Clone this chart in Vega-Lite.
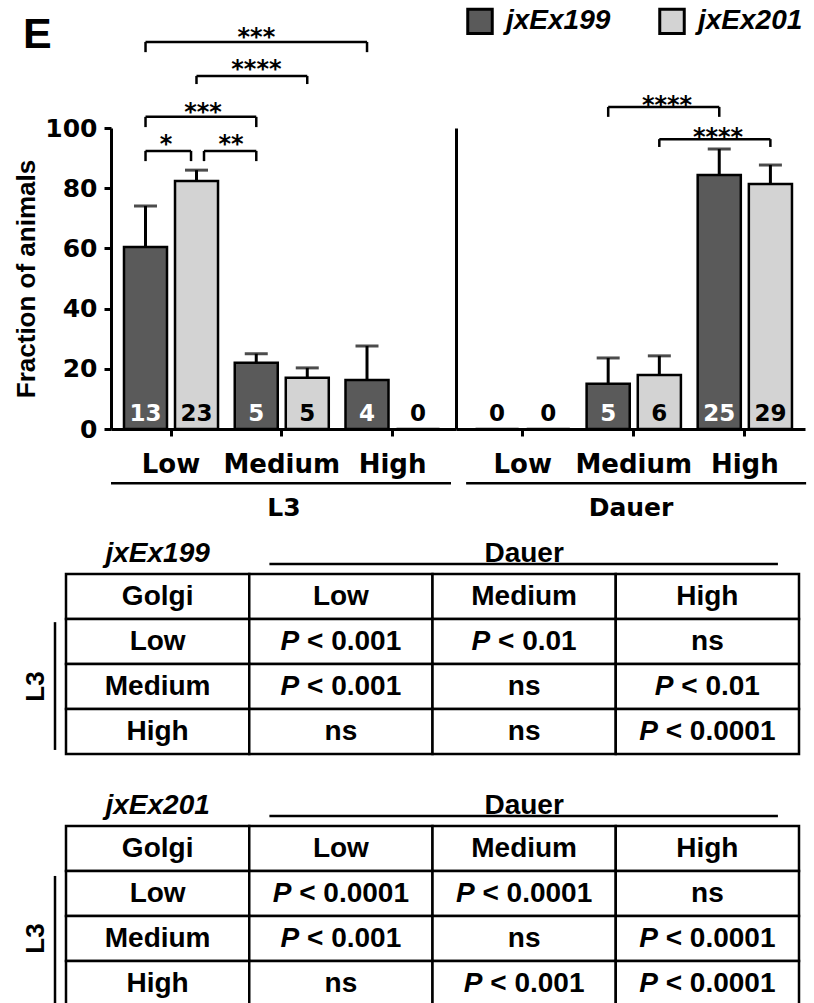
{
"$schema": "https://vega.github.io/schema/vega-lite/v6.json",
"background": "white",
"padding": {"left": 13, "top": 7, "right": 0, "bottom": 0},
"config": {"view": {"stroke": null}, "axis": {"grid": false, "domainColor": "black", "tickColor": "black", "labelColor": "black", "titleColor": "black"}},
"datasets": {
"bars": [
{"stage":"L3","group":"Low","line":"jxEx199","value":60.5,"err":74.1,"n":13},
{"stage":"L3","group":"Low","line":"jxEx201","value":82.4,"err":86.0,"n":23},
{"stage":"L3","group":"Medium","line":"jxEx199","value":22.0,"err":25.0,"n":5},
{"stage":"L3","group":"Medium","line":"jxEx201","value":17.0,"err":20.3,"n":5},
{"stage":"L3","group":"High","line":"jxEx199","value":16.3,"err":27.6,"n":4},
{"stage":"L3","group":"High","line":"jxEx201","value":0,"err":null,"n":0},
{"stage":"Dauer","group":"Low","line":"jxEx199","value":0,"err":null,"n":0},
{"stage":"Dauer","group":"Low","line":"jxEx201","value":0,"err":null,"n":0},
{"stage":"Dauer","group":"Medium","line":"jxEx199","value":15.0,"err":23.6,"n":5},
{"stage":"Dauer","group":"Medium","line":"jxEx201","value":17.9,"err":24.3,"n":6},
{"stage":"Dauer","group":"High","line":"jxEx199","value":84.4,"err":93.0,"n":25},
{"stage":"Dauer","group":"High","line":"jxEx201","value":81.4,"err":87.7,"n":29}
],
"t199": [
{"r":"Golgi","c":"Golgi","t":"Golgi"},{"r":"Golgi","c":"Low","t":"Low"},{"r":"Golgi","c":"Medium","t":"Medium"},{"r":"Golgi","c":"High","t":"High"},
{"r":"Low","c":"Golgi","t":"Low"},{"r":"Low","c":"Low","p":"P","t":"< 0.001"},{"r":"Low","c":"Medium","p":"P","t":"< 0.01"},{"r":"Low","c":"High","t":"ns"},
{"r":"Medium","c":"Golgi","t":"Medium"},{"r":"Medium","c":"Low","p":"P","t":"< 0.001"},{"r":"Medium","c":"Medium","t":"ns"},{"r":"Medium","c":"High","p":"P","t":"< 0.01"},
{"r":"High","c":"Golgi","t":"High"},{"r":"High","c":"Low","t":"ns"},{"r":"High","c":"Medium","t":"ns"},{"r":"High","c":"High","p":"P","t":"< 0.0001"}
],
"t201": [
{"r":"Golgi","c":"Golgi","t":"Golgi"},{"r":"Golgi","c":"Low","t":"Low"},{"r":"Golgi","c":"Medium","t":"Medium"},{"r":"Golgi","c":"High","t":"High"},
{"r":"Low","c":"Golgi","t":"Low"},{"r":"Low","c":"Low","p":"P","t":"< 0.0001"},{"r":"Low","c":"Medium","p":"P","t":"< 0.0001"},{"r":"Low","c":"High","t":"ns"},
{"r":"Medium","c":"Golgi","t":"Medium"},{"r":"Medium","c":"Low","p":"P","t":"< 0.001"},{"r":"Medium","c":"Medium","t":"ns"},{"r":"Medium","c":"High","p":"P","t":"< 0.0001"},
{"r":"High","c":"Golgi","t":"High"},{"r":"High","c":"Low","t":"ns"},{"r":"High","c":"Medium","p":"P","t":"< 0.001"},{"r":"High","c":"High","p":"P","t":"< 0.0001"}
]
},
"columns": 1,
"spacing": 9,
"align": "none",
"resolve": {"scale": {"x": "independent", "y": "independent", "xOffset": "independent", "color": "independent"}, "axis": {"x": "independent", "y": "independent"}, "legend": {"color": "independent"}},
"concat": [
{
"hconcat": [
{
"width": 345, "height": 301,
"layer": [
{"data": {"name": "bars"}, "transform": [{"filter": "datum.stage === 'L3'"}],
 "mark": {"type": "bar", "stroke": "black", "strokeWidth": 2.5},
 "encoding": {
  "x": {"field": "group", "type": "nominal", "title": "L3", "scale": {"domain": ["Low","Medium","High"], "paddingInner": 0.151, "paddingOuter": 0.133, "align": 0.441},
        "axis": {"labelAngle": 0, "domainWidth": 3, "tickWidth": 3, "tickSize": 7, "labelFont": "DejaVu Sans", "labelFontSize": 26, "labelFontWeight": "bold", "labelPadding": 15, "titleFont": "DejaVu Sans", "titleFontSize": 25, "titleFontWeight": "bold", "titlePadding": 18}},
  "xOffset": {"field": "line", "type": "nominal", "scale": {"domain": ["jxEx199","jxEx201"], "paddingInner": 0.157, "paddingOuter": 0}},
  "y": {"field": "value", "type": "quantitative", "title": "Fraction of animals", "scale": {"domain": [0, 100], "nice": false},
        "axis": {"values": [0,20,40,60,80,100], "domainWidth": 3, "tickWidth": 3, "tickSize": 7, "labelFont": "DejaVu Sans", "labelFontSize": 25, "labelFontWeight": "bold", "labelPadding": 7, "titleFont": "Liberation Sans", "titleFontSize": 26, "titleFontWeight": "bold", "titlePadding": 5}},
  "color": {"field": "line", "type": "nominal", "scale": {"domain": ["jxEx199","jxEx201"], "range": ["#5a5a5a","#d3d3d3"]}, "legend": null}
 }},
{"data": {"name": "bars"}, "transform": [{"filter": "datum.stage === 'L3' && datum.err != null"}],
 "mark": {"type": "rule", "color": "black", "strokeWidth": 3},
 "encoding": {"x": {"field": "group", "type": "nominal"}, "xOffset": {"field": "line", "type": "nominal"}, "y": {"field": "value", "type": "quantitative"}, "y2": {"field": "err"}}},
{"data": {"name": "bars"}, "transform": [{"filter": "datum.stage === 'L3' && datum.err != null"}],
 "mark": {"type": "tick", "color": "black", "thickness": 3, "size": 23},
 "encoding": {"x": {"field": "group", "type": "nominal"}, "xOffset": {"field": "line", "type": "nominal"}, "y": {"field": "err", "type": "quantitative"}}},
{"data": {"name": "bars"}, "transform": [{"filter": "datum.stage === 'L3'"}],
 "mark": {"type": "text", "font": "DejaVu Sans", "fontSize": 23, "fontWeight": "bold", "baseline": "middle", "dy": -15},
 "encoding": {"x": {"field": "group", "type": "nominal"}, "xOffset": {"field": "line", "type": "nominal"}, "y": {"datum": 0, "type": "quantitative"}, "text": {"field": "n", "type": "nominal"},
   "color": {"condition": {"test": "datum.line === 'jxEx199' && datum.n > 0", "value": "white"}, "value": "black"}}},
{"data": {"values": [{"from":"Low","to":"High","y":128.6,"yb":125.2},{"from":"Low","to":"Medium","y":103.7,"yb":100.3}]},
 "layer": [
  {"mark": {"type": "rule", "color": "black", "strokeWidth": 2.5}, "encoding": {"x": {"field": "from", "type": "nominal", "bandPosition": 0.229}, "x2": {"field": "to", "bandPosition": 0.229}, "y": {"field": "y", "type": "quantitative"}}},
  {"mark": {"type": "rule", "color": "black", "strokeWidth": 2.5}, "encoding": {"x": {"field": "from", "type": "nominal", "bandPosition": 0.229}, "y": {"field": "y", "type": "quantitative"}, "y2": {"field": "yb"}}},
  {"mark": {"type": "rule", "color": "black", "strokeWidth": 2.5}, "encoding": {"x": {"field": "to", "type": "nominal", "bandPosition": 0.229}, "y": {"field": "y", "type": "quantitative"}, "y2": {"field": "yb"}}}
 ]},
{"data": {"values": [{"from":"Low","to":"Medium","y":117.3,"yb":114.6}]},
 "layer": [
  {"mark": {"type": "rule", "color": "black", "strokeWidth": 2.5}, "encoding": {"x": {"field": "from", "type": "nominal", "bandPosition": 0.771}, "x2": {"field": "to", "bandPosition": 0.771}, "y": {"field": "y", "type": "quantitative"}}},
  {"mark": {"type": "rule", "color": "black", "strokeWidth": 2.5}, "encoding": {"x": {"field": "from", "type": "nominal", "bandPosition": 0.771}, "y": {"field": "y", "type": "quantitative"}, "y2": {"field": "yb"}}},
  {"mark": {"type": "rule", "color": "black", "strokeWidth": 2.5}, "encoding": {"x": {"field": "to", "type": "nominal", "bandPosition": 0.771}, "y": {"field": "y", "type": "quantitative"}, "y2": {"field": "yb"}}}
 ]},
{"data": {"values": [{"from":"Low","to":"Low","y":92.4,"yb":89.0}]},
 "layer": [
  {"mark": {"type": "rule", "color": "black", "strokeWidth": 2.5}, "encoding": {"x": {"field": "from", "type": "nominal", "bandPosition": 0.229}, "x2": {"field": "to", "bandPosition": 0.713}, "y": {"field": "y", "type": "quantitative"}}},
  {"mark": {"type": "rule", "color": "black", "strokeWidth": 2.5}, "encoding": {"x": {"field": "from", "type": "nominal", "bandPosition": 0.229}, "y": {"field": "y", "type": "quantitative"}, "y2": {"field": "yb"}}},
  {"mark": {"type": "rule", "color": "black", "strokeWidth": 2.5}, "encoding": {"x": {"field": "to", "type": "nominal", "bandPosition": 0.713}, "y": {"field": "y", "type": "quantitative"}, "y2": {"field": "yb"}}}
 ]},
{"data": {"values": [{"from":"Low","to":"Medium","y":92.4,"yb":89.0}]},
 "layer": [
  {"mark": {"type": "rule", "color": "black", "strokeWidth": 2.5}, "encoding": {"x": {"field": "from", "type": "nominal", "bandPosition": 0.851}, "x2": {"field": "to", "bandPosition": 0.229}, "y": {"field": "y", "type": "quantitative"}}},
  {"mark": {"type": "rule", "color": "black", "strokeWidth": 2.5}, "encoding": {"x": {"field": "from", "type": "nominal", "bandPosition": 0.851}, "y": {"field": "y", "type": "quantitative"}, "y2": {"field": "yb"}}},
  {"mark": {"type": "rule", "color": "black", "strokeWidth": 2.5}, "encoding": {"x": {"field": "to", "type": "nominal", "bandPosition": 0.229}, "y": {"field": "y", "type": "quantitative"}, "y2": {"field": "yb"}}}
 ]},
{"data": {"values": [{"at":"Medium","y":132.2,"label":"***"},{"at":"Medium","y":121.6,"label":"****"}]},
 "mark": {"type": "text", "font": "DejaVu Sans", "fontSize": 24, "fontWeight": "bold", "baseline": "alphabetic", "dy": 14, "color": "black"},
 "encoding": {"x": {"field": "at", "type": "nominal", "bandPosition": 0.23}, "y": {"field": "y", "type": "quantitative"}, "text": {"field": "label"}}},
{"data": {"values": [{"at":"Low","y":107.3,"label":"***"}]},
 "mark": {"type": "text", "font": "DejaVu Sans", "fontSize": 24, "fontWeight": "bold", "baseline": "alphabetic", "dy": 14, "color": "black"},
 "encoding": {"x": {"field": "at", "type": "nominal", "bandPosition": 0.84}, "y": {"field": "y", "type": "quantitative"}, "text": {"field": "label"}}},
{"data": {"values": [{"at":"Low","y":96.7,"label":"*"}]},
 "mark": {"type": "text", "font": "DejaVu Sans", "fontSize": 24, "fontWeight": "bold", "baseline": "alphabetic", "dy": 14, "color": "black"},
 "encoding": {"x": {"field": "at", "type": "nominal", "bandPosition": 0.447}, "y": {"field": "y", "type": "quantitative"}, "text": {"field": "label"}}},
{"data": {"values": [{"at":"Low","y":96.7,"label":"**"}]},
 "mark": {"type": "text", "font": "DejaVu Sans", "fontSize": 24, "fontWeight": "bold", "baseline": "alphabetic", "dy": 14, "color": "black"},
 "encoding": {"x": {"field": "at", "type": "nominal", "bandPosition": 1.138}, "y": {"field": "y", "type": "quantitative"}, "text": {"field": "label"}}},
{"data": {"values": [{}]},
 "mark": {"type": "rule", "color": "black", "strokeWidth": 2.5},
 "encoding": {"x": {"datum": "Low", "bandPosition": -0.138}, "x2": {"datum": "High", "bandPosition": 1.122}, "y": {"datum": -18, "type": "quantitative"}}},
{"data": {"values": [{"label": "E"}]},
 "mark": {"type": "text", "font": "Liberation Sans", "fontSize": 43, "fontWeight": "bold", "align": "left", "baseline": "alphabetic", "color": "black"},
 "encoding": {"x": {"datum": "Low", "bandPosition": -1.074}, "y": {"datum": 126.6, "type": "quantitative"}, "text": {"field": "label"}}}
]
},
{
"width": 349, "height": 301,
"layer": [
{"data": {"name": "bars"}, "transform": [{"filter": "datum.stage === 'Dauer'"}],
 "mark": {"type": "bar", "stroke": "black", "strokeWidth": 2.5},
 "encoding": {
  "x": {"field": "group", "type": "nominal", "title": "Dauer", "scale": {"domain": ["Low","Medium","High"], "paddingInner": 0.151, "paddingOuter": 0.1466, "align": 0.6},
        "axis": {"labelAngle": 0, "domainWidth": 3, "tickWidth": 3, "tickSize": 7, "labelFont": "DejaVu Sans", "labelFontSize": 26, "labelFontWeight": "bold", "labelPadding": 15, "titleFont": "DejaVu Sans", "titleFontSize": 25, "titleFontWeight": "bold", "titlePadding": 18}},
  "xOffset": {"field": "line", "type": "nominal", "scale": {"domain": ["jxEx199","jxEx201"], "paddingInner": 0.157, "paddingOuter": 0}},
  "y": {"field": "value", "type": "quantitative", "scale": {"domain": [0, 100], "nice": false},
        "axis": {"labels": false, "ticks": false, "title": null, "domainWidth": 3}},
  "color": {"field": "line", "type": "nominal", "scale": {"domain": ["jxEx199","jxEx201"], "range": ["#5a5a5a","#d3d3d3"]},
        "legend": {"title": null, "orient": "none", "legendX": 10, "legendY": -121, "direction": "horizontal", "symbolType": "square", "symbolSize": 600, "symbolStrokeColor": "black", "symbolStrokeWidth": 3, "labelFont": "Liberation Sans", "labelFontSize": 28, "labelFontStyle": "italic", "labelFontWeight": "bold", "labelColor": "black", "labelOffset": 12, "columnPadding": 42, "padding": 0, "labelLimit": 300}}
 }},
{"data": {"name": "bars"}, "transform": [{"filter": "datum.stage === 'Dauer' && datum.err != null"}],
 "mark": {"type": "rule", "color": "black", "strokeWidth": 3},
 "encoding": {"x": {"field": "group", "type": "nominal"}, "xOffset": {"field": "line", "type": "nominal"}, "y": {"field": "value", "type": "quantitative"}, "y2": {"field": "err"}}},
{"data": {"name": "bars"}, "transform": [{"filter": "datum.stage === 'Dauer' && datum.err != null"}],
 "mark": {"type": "tick", "color": "black", "thickness": 3, "size": 23},
 "encoding": {"x": {"field": "group", "type": "nominal"}, "xOffset": {"field": "line", "type": "nominal"}, "y": {"field": "err", "type": "quantitative"}}},
{"data": {"name": "bars"}, "transform": [{"filter": "datum.stage === 'Dauer'"}],
 "mark": {"type": "text", "font": "DejaVu Sans", "fontSize": 23, "fontWeight": "bold", "baseline": "middle", "dy": -15},
 "encoding": {"x": {"field": "group", "type": "nominal"}, "xOffset": {"field": "line", "type": "nominal"}, "y": {"datum": 0, "type": "quantitative"}, "text": {"field": "n", "type": "nominal"},
   "color": {"condition": {"test": "datum.line === 'jxEx199' && datum.n > 0", "value": "white"}, "value": "black"}}},
{"data": {"values": [{"from":"Medium","to":"High","y":107.0,"yb":103.7}]},
 "layer": [
  {"mark": {"type": "rule", "color": "black", "strokeWidth": 2.5}, "encoding": {"x": {"field": "from", "type": "nominal", "bandPosition": 0.229}, "x2": {"field": "to", "bandPosition": 0.229}, "y": {"field": "y", "type": "quantitative"}}},
  {"mark": {"type": "rule", "color": "black", "strokeWidth": 2.5}, "encoding": {"x": {"field": "from", "type": "nominal", "bandPosition": 0.229}, "y": {"field": "y", "type": "quantitative"}, "y2": {"field": "yb"}}},
  {"mark": {"type": "rule", "color": "black", "strokeWidth": 2.5}, "encoding": {"x": {"field": "to", "type": "nominal", "bandPosition": 0.229}, "y": {"field": "y", "type": "quantitative"}, "y2": {"field": "yb"}}}
 ]},
{"data": {"values": [{"from":"Medium","to":"High","y":96.3,"yb":93.7}]},
 "layer": [
  {"mark": {"type": "rule", "color": "black", "strokeWidth": 2.5}, "encoding": {"x": {"field": "from", "type": "nominal", "bandPosition": 0.771}, "x2": {"field": "to", "bandPosition": 0.771}, "y": {"field": "y", "type": "quantitative"}}},
  {"mark": {"type": "rule", "color": "black", "strokeWidth": 2.5}, "encoding": {"x": {"field": "from", "type": "nominal", "bandPosition": 0.771}, "y": {"field": "y", "type": "quantitative"}, "y2": {"field": "yb"}}},
  {"mark": {"type": "rule", "color": "black", "strokeWidth": 2.5}, "encoding": {"x": {"field": "to", "type": "nominal", "bandPosition": 0.771}, "y": {"field": "y", "type": "quantitative"}, "y2": {"field": "yb"}}}
 ]},
{"data": {"values": [{"at":"Medium","y":109.6,"label":"****"}]},
 "mark": {"type": "text", "font": "DejaVu Sans", "fontSize": 24, "fontWeight": "bold", "baseline": "alphabetic", "dy": 14, "color": "black"},
 "encoding": {"x": {"field": "at", "type": "nominal", "bandPosition": 0.853}, "y": {"field": "y", "type": "quantitative"}, "text": {"field": "label"}}},
{"data": {"values": [{"at":"High","y":99.0,"label":"****"}]},
 "mark": {"type": "text", "font": "DejaVu Sans", "fontSize": 24, "fontWeight": "bold", "baseline": "alphabetic", "dy": 14, "color": "black"},
 "encoding": {"x": {"field": "at", "type": "nominal", "bandPosition": 0.216}, "y": {"field": "y", "type": "quantitative"}, "text": {"field": "label"}}},
{"data": {"values": [{}]},
 "mark": {"type": "rule", "color": "black", "strokeWidth": 2.5},
 "encoding": {"x": {"datum": "Low", "bandPosition": -0.1}, "x2": {"datum": "High", "bandPosition": 1.15}, "y": {"datum": -18, "type": "quantitative"}}}
]
}
],
"spacing": 0,
"resolve": {"scale": {"x": "independent", "y": "independent", "xOffset": "independent", "color": "independent"}, "axis": {"x": "independent", "y": "independent"}, "legend": {"color": "independent"}}
},
{
"concat": [
{
"width": 688, "height": 225,
"data": {"name": "t199"},
"layer": [
{"mark": {"type": "rect", "fill": "white", "stroke": "black", "strokeWidth": 2.5},
 "encoding": {"x": {"field": "c", "type": "nominal", "scale": {"domain": ["Golgi","Low","Medium","High"], "range": [-45, 688], "paddingInner": 0, "paddingOuter": 0}, "axis": null},
              "y": {"field": "r", "type": "nominal", "scale": {"domain": ["title","Golgi","Low","Medium","High"], "paddingInner": 0, "paddingOuter": 0}, "axis": null}}},
{"transform": [{"filter": "!datum.p"}],
 "mark": {"type": "text", "font": "Liberation Sans", "fontSize": 28, "fontWeight": "bold", "baseline": "middle", "color": "black"},
 "encoding": {"x": {"field": "c", "type": "nominal"}, "y": {"field": "r", "type": "nominal"}, "text": {"field": "t"}}},
{"transform": [{"filter": "datum.p"}],
 "mark": {"type": "text", "font": "Liberation Sans", "fontSize": 28, "fontWeight": "bold", "fontStyle": "italic", "baseline": "middle", "align": "left", "color": "black", "dx": {"expr": "-(28*0.945 + 28*(1.14 + 0.556*(length(datum.t)-3)))/2"}},
 "encoding": {"x": {"field": "c", "type": "nominal"}, "y": {"field": "r", "type": "nominal"}, "text": {"field": "p"}}},
{"transform": [{"filter": "datum.p"}],
 "mark": {"type": "text", "font": "Liberation Sans", "fontSize": 28, "fontWeight": "bold", "baseline": "middle", "align": "left", "color": "black", "dx": {"expr": "-(28*0.945 + 28*(1.14 + 0.556*(length(datum.t)-3)))/2 + 28*0.945"}},
 "encoding": {"x": {"field": "c", "type": "nominal"}, "y": {"field": "r", "type": "nominal"}, "text": {"field": "t"}}},
{"data": {"values": [{"label": "jxEx199"}]},
 "mark": {"type": "text", "font": "Liberation Sans", "fontSize": 28, "fontWeight": "bold", "fontStyle": "italic", "baseline": "middle", "color": "black"},
 "encoding": {"x": {"datum": "Golgi"}, "y": {"datum": "title", "bandPosition": 0.55}, "text": {"field": "label"}}},
{"data": {"values": [{"label": "Dauer"}]},
 "mark": {"type": "text", "font": "Liberation Sans", "fontSize": 28, "fontWeight": "bold", "baseline": "middle", "color": "black"},
 "encoding": {"x": {"datum": "Medium"}, "y": {"datum": "title", "bandPosition": 0.55}, "text": {"field": "label"}}},
{"data": {"values": [{}]},
 "mark": {"type": "rule", "color": "black", "strokeWidth": 2.5},
 "encoding": {"x": {"datum": "Low", "bandPosition": 0.11}, "x2": {"datum": "High", "bandPosition": 0.885}, "y": {"datum": "title", "bandPosition": 0.78}}},
{"data": {"values": [{}]},
 "mark": {"type": "rule", "color": "black", "strokeWidth": 2.5},
 "encoding": {"x": {"datum": "Golgi", "bandPosition": -0.06}, "y": {"datum": "Low", "bandPosition": 0.07}, "y2": {"datum": "High", "bandPosition": 0.91}}},
{"data": {"values": [{"label": "L3"}]},
 "mark": {"type": "text", "font": "Liberation Sans", "fontSize": 26, "fontWeight": "bold", "baseline": "middle", "angle": 270, "color": "black"},
 "encoding": {"x": {"datum": "Golgi", "bandPosition": -0.164}, "y": {"datum": "Medium"}, "text": {"field": "label"}}}
]
},
{
"width": 688, "height": 225,
"data": {"name": "t201"},
"layer": [
{"mark": {"type": "rect", "fill": "white", "stroke": "black", "strokeWidth": 2.5},
 "encoding": {"x": {"field": "c", "type": "nominal", "scale": {"domain": ["Golgi","Low","Medium","High"], "range": [-45, 688], "paddingInner": 0, "paddingOuter": 0}, "axis": null},
              "y": {"field": "r", "type": "nominal", "scale": {"domain": ["title","Golgi","Low","Medium","High"], "paddingInner": 0, "paddingOuter": 0}, "axis": null}}},
{"transform": [{"filter": "!datum.p"}],
 "mark": {"type": "text", "font": "Liberation Sans", "fontSize": 28, "fontWeight": "bold", "baseline": "middle", "color": "black"},
 "encoding": {"x": {"field": "c", "type": "nominal"}, "y": {"field": "r", "type": "nominal"}, "text": {"field": "t"}}},
{"transform": [{"filter": "datum.p"}],
 "mark": {"type": "text", "font": "Liberation Sans", "fontSize": 28, "fontWeight": "bold", "fontStyle": "italic", "baseline": "middle", "align": "left", "color": "black", "dx": {"expr": "-(28*0.945 + 28*(1.14 + 0.556*(length(datum.t)-3)))/2"}},
 "encoding": {"x": {"field": "c", "type": "nominal"}, "y": {"field": "r", "type": "nominal"}, "text": {"field": "p"}}},
{"transform": [{"filter": "datum.p"}],
 "mark": {"type": "text", "font": "Liberation Sans", "fontSize": 28, "fontWeight": "bold", "baseline": "middle", "align": "left", "color": "black", "dx": {"expr": "-(28*0.945 + 28*(1.14 + 0.556*(length(datum.t)-3)))/2 + 28*0.945"}},
 "encoding": {"x": {"field": "c", "type": "nominal"}, "y": {"field": "r", "type": "nominal"}, "text": {"field": "t"}}},
{"data": {"values": [{"label": "jxEx201"}]},
 "mark": {"type": "text", "font": "Liberation Sans", "fontSize": 28, "fontWeight": "bold", "fontStyle": "italic", "baseline": "middle", "color": "black"},
 "encoding": {"x": {"datum": "Golgi"}, "y": {"datum": "title", "bandPosition": 0.55}, "text": {"field": "label"}}},
{"data": {"values": [{"label": "Dauer"}]},
 "mark": {"type": "text", "font": "Liberation Sans", "fontSize": 28, "fontWeight": "bold", "baseline": "middle", "color": "black"},
 "encoding": {"x": {"datum": "Medium"}, "y": {"datum": "title", "bandPosition": 0.55}, "text": {"field": "label"}}},
{"data": {"values": [{}]},
 "mark": {"type": "rule", "color": "black", "strokeWidth": 2.5},
 "encoding": {"x": {"datum": "Low", "bandPosition": 0.11}, "x2": {"datum": "High", "bandPosition": 0.885}, "y": {"datum": "title", "bandPosition": 0.78}}},
{"data": {"values": [{}]},
 "mark": {"type": "rule", "color": "black", "strokeWidth": 2.5},
 "encoding": {"x": {"datum": "Golgi", "bandPosition": -0.06}, "y": {"datum": "Low", "bandPosition": 0.11}, "y2": {"datum": "High", "bandPosition": 1.0}}},
{"data": {"values": [{"label": "L3"}]},
 "mark": {"type": "text", "font": "Liberation Sans", "fontSize": 26, "fontWeight": "bold", "baseline": "middle", "angle": 270, "color": "black"},
 "encoding": {"x": {"datum": "Golgi", "bandPosition": -0.164}, "y": {"datum": "Medium"}, "text": {"field": "label"}}}
]
}
],
"columns": 1,
"spacing": 25,
"align": "none",
"resolve": {"scale": {"x": "independent", "y": "independent"}}
}
]
}
